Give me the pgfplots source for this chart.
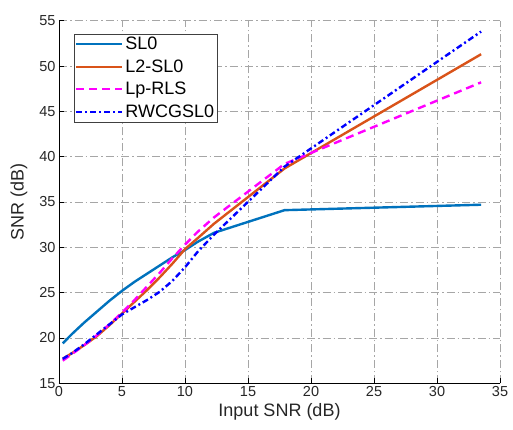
\documentclass[border=0pt]{standalone}
\usepackage{pgfplots}
\pgfplotsset{compat=1.18}
\usepackage{fontspec}
\setmainfont{Liberation Sans}
\definecolor{mblue}{rgb}{0,0.447,0.741}
\definecolor{morange}{rgb}{0.85,0.325,0.098}
\definecolor{mmag}{rgb}{1,0,1}
\definecolor{mdblue}{rgb}{0,0,1}
\begin{document}
\begin{tikzpicture}
\begin{axis}[
  scale only axis,
  width=441pt, height=362.6pt,
  xmin=0, xmax=35, ymin=15, ymax=55,
  xtick={0,5,...,35}, ytick={15,20,...,55},
  axis x line*=bottom, axis y line*=left,
  axis line style={black, line width=0.7pt, -},
  tick style={black, line width=0.7pt},
  tick align=inside, major tick length=5pt,
  grid=major,
  major grid style={gray!70, line width=0.7pt, dash pattern=on 8pt off 3pt on 1.5pt off 3pt},
  /pgf/number format/assume math mode=true,
  ticklabel style={font=\fontsize{14.5}{16}\selectfont, text=black!85},
  xlabel={Input SNR (dB)}, ylabel={SNR (dB)},
  label style={font=\fontsize{18}{20}\selectfont, text=black!85},
  xlabel style={at={(axis description cs:0.5,-0.0921)}, anchor=base},
  ylabel style={at={(axis description cs:-0.0907,0.5)}, anchor=center},
  legend cell align=left,
  legend style={at={(rel axis cs:0.034,0.963)}, anchor=north west,
    draw=black!75, line width=0.7pt, fill=white,
    font=\fontsize{18}{20}\selectfont, row sep=4.5pt, inner sep=1pt,
    outer sep=0pt, /tikz/every odd column/.append style={column sep=0pt}},
  legend image code/.code={\draw[#1] (0pt,0pt) -- (46pt,0pt);},
]
\addplot[mblue, line width=2.4pt] coordinates {
(0.3,19.4) (1,20.4) (2,21.7) (3,22.9) (4,24.1) (5,25.2) (6,26.2) (7,27.1)
(8,28.0) (9,28.9) (10,29.7) (11,30.6) (12.3,31.6) (17.9,34.1) (33.5,34.7)};
\addlegendentry{SL0}
\addplot[morange, line width=2.4pt] coordinates {
(0.3,17.7) (1,18.3) (2,19.2) (3,20.2) (4,21.4) (5,22.7) (6,24.0) (7,25.3)
(8,26.7) (9,28.2) (10,29.8) (11,31.0) (12.3,32.6) (17.9,38.7) (33.5,51.3)};
\addlegendentry{L2-SL0}
\addplot[mmag, line width=2.4pt, dash pattern=on 8pt off 5pt] coordinates {
(0.3,17.5) (1,18.2) (2,19.2) (3,20.3) (4,21.5) (5,22.8) (6,24.2) (7,25.7)
(8,27.2) (9,28.8) (10,30.3) (11,31.7) (12.3,33.3) (17.9,39.2) (33.5,48.2)};
\addlegendentry{Lp-RLS}
\addplot[mdblue, line width=2.4pt, dash pattern=on 6pt off 3pt on 2pt off 3pt] coordinates {
(0.3,17.7) (1,18.3) (2,19.3) (3,20.4) (4,21.5) (5,22.6) (6,23.4) (7,24.2)
(8,25.1) (9,26.3) (10,27.8) (11,29.5) (12.3,31.4) (17.9,38.9) (33.5,53.8)};
\addlegendentry{RWCGSL0}
\end{axis}
\pgfresetboundingbox
\path (-59pt,-46pt) rectangle (454pt,383.3pt);
\end{tikzpicture}
\end{document}
